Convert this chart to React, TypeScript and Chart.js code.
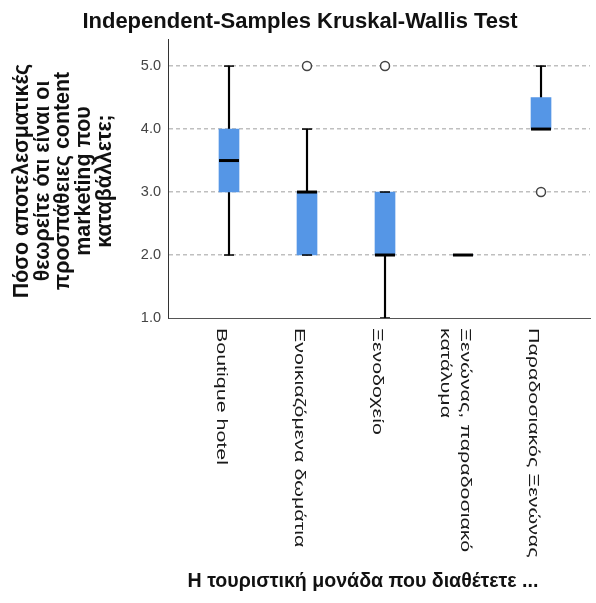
import React, { useEffect, useRef } from "react";
import { Chart, registerables } from "chart.js";

Chart.register(...registerables);

const TITLE = "Independent-Samples Kruskal-Wallis Test";
const X_TITLE = "Η τουριστική μονάδα που διαθέτετε ...";
const Y_TITLE_LINES = [
  "Πόσο αποτελεσματικές",
  "θεωρείτε ότι είναι οι",
  "προσπάθειες content",
  "marketing που",
  "καταβάλλετε;",
];

const categories: (string | string[])[] = [
  "Boutique hotel",
  "Ενοικιαζόμενα δωμάτια",
  "Ξενοδοχείο",
  ["Ξενώνας, παραδοσιακό", "κατάλυμα"],
  "Παραδοσιακός Ξενώνας",
];

const whiskerLow = [2, 2, 1, 2, 4];
const q1 = [3, 2, 2, 2, 4];
const median = [3.5, 3, 2, 2, 4];
const q3 = [4, 3, 3, 2, 4.5];
const whiskerHigh = [5, 4, 3, 2, 5];

const outlierCategory = [1, 2, 4];
const outlierValue = [5, 5, 3];

const yTicks = [1, 2, 3, 4, 5];
const Y_MIN = 1;
const Y_MAX = 5.43;
const X_MIN = -0.782;
const X_MAX = 4.628;

const BOX_COLOR = "#5596e6";
const FONT = '"Liberation Sans", Arial, sans-serif';

const textPlugin = {
  id: "customTexts",
  afterDraw(chart: any) {
    const ctx: CanvasRenderingContext2D = chart.ctx;
    const xs = chart.scales.x;
    ctx.save();
    ctx.fillStyle = "#111";
    ctx.textBaseline = "alphabetic";
    ctx.textAlign = "center";

    ctx.font = `bold 22px ${FONT}`;
    ctx.fillText(TITLE, 300, 28);

    ctx.font = `bold 21.4px ${FONT}`;
    Y_TITLE_LINES.forEach((line, i) => {
      ctx.save();
      ctx.translate(28 + i * 20.7, 181);
      ctx.rotate(-Math.PI / 2);
      ctx.fillText(line, 0, 0);
      ctx.restore();
    });

    ctx.font = `bold 19.6px ${FONT}`;
    ctx.fillText(X_TITLE, 363, 587);

    ctx.font = `14px ${FONT}`;
    ctx.textAlign = "left";
    ctx.fillStyle = "#1a1a1a";
    categories.forEach((lab, i) => {
      const lines = Array.isArray(lab) ? lab : [lab];
      const px = xs.getPixelForValue(i);
      lines.forEach((ln, j) => {
        const bx = px - 12 + ((lines.length - 1) / 2 - j) * 20;
        ctx.save();
        ctx.translate(bx, 328);
        ctx.rotate(Math.PI / 2);
        ctx.scale(1.53, 1);
        ctx.fillText(ln, 0, 0);
        ctx.restore();
      });
    });
    ctx.restore();
  },
};

export default function App() {
  const ref = useRef<HTMLCanvasElement | null>(null);

  useEffect(() => {
    if (!ref.current) return;
    const idx = categories.map((_, i) => i);
    const chart = new Chart(ref.current, {
      type: "bar",
      data: {
        datasets: [
          {
            type: "scatter",
            label: "median",
            data: idx.map((i) => ({ x: i, y: median[i] })),
            pointStyle: "line",
            pointRadius: 10,
            borderWidth: 3,
            pointBorderWidth: 3,
            borderColor: "#000",
            pointBorderColor: "#000",
            order: 0,
          } as any,
          {
            type: "scatter",
            label: "caps",
            data: [
              ...idx.map((i) => ({ x: i, y: whiskerLow[i] })),
              ...idx.map((i) => ({ x: i, y: whiskerHigh[i] })),
            ],
            pointStyle: "line",
            pointRadius: 5,
            pointBorderWidth: 1.5,
            pointBorderColor: "#000",
            borderColor: "#000",
            order: 1,
          } as any,
          {
            type: "scatter",
            label: "outliers",
            data: outlierCategory.map((c, k) => ({ x: c, y: outlierValue[k] })),
            pointStyle: "circle",
            pointRadius: 4.5,
            pointBorderWidth: 1.5,
            pointBorderColor: "#444",
            pointBackgroundColor: "#fff",
            order: 1,
          } as any,
          {
            type: "bar",
            label: "box",
            data: idx.map((i) => ({ x: i, y: [q1[i], q3[i]] })),
            backgroundColor: BOX_COLOR,
            borderWidth: 0,
            barThickness: 20,
            grouped: false,
            order: 2,
          } as any,
          {
            type: "bar",
            label: "whiskerLow",
            data: idx.map((i) => ({ x: i, y: [whiskerLow[i], q1[i]] })),
            backgroundColor: "#000",
            borderWidth: 0,
            barThickness: 1.5,
            grouped: false,
            order: 3,
          } as any,
          {
            type: "bar",
            label: "whiskerHigh",
            data: idx.map((i) => ({ x: i, y: [q3[i], whiskerHigh[i]] })),
            backgroundColor: "#000",
            borderWidth: 0,
            barThickness: 1.5,
            grouped: false,
            order: 3,
          } as any,
        ],
      },
      options: {
        animation: false,
        responsive: false,
        events: [],
        layout: { autoPadding: false, padding: { top: 39, right: 6, left: 0, bottom: 0 } },
        plugins: {
          legend: { display: false },
          tooltip: { enabled: false },
          title: { display: false },
        },
        scales: {
          x: {
            type: "linear",
            offset: false,
            min: X_MIN,
            max: X_MAX,
            grid: { display: false, drawTicks: false },
            ticks: { display: false },
            border: { display: true, color: "#555", width: 1 },
            afterFit: (s: any) => {
              s.height = 285;
            },
          },
          y: {
            type: "linear",
            min: Y_MIN,
            max: Y_MAX,
            afterBuildTicks: (s: any) => {
              s.ticks = yTicks.map((v) => ({ value: v }));
            },
            grid: {
              drawTicks: false,
              lineWidth: 1.5,
              color: (c: any) =>
                c.tick && c.tick.value === Y_MIN ? "rgba(0,0,0,0)" : "#bfbfbf",
            },
            border: { display: true, color: "#333", width: 1, dash: [4, 3] },
            ticks: {
              padding: 7,
              color: "#444",
              font: { family: FONT, size: 14.5 },
              callback: (v: any) => Number(v).toFixed(1),
            },
            afterFit: (s: any) => {
              s.width = 168;
            },
          },
        },
      } as any,
      plugins: [textPlugin],
    });
    return () => chart.destroy();
  }, []);

  return (
    <div style={{ position: "absolute", left: 0, top: 0, width: 596, height: 603, background: "#fff" }}>
      <canvas ref={ref} width={596} height={603} />
    </div>
  );
}
